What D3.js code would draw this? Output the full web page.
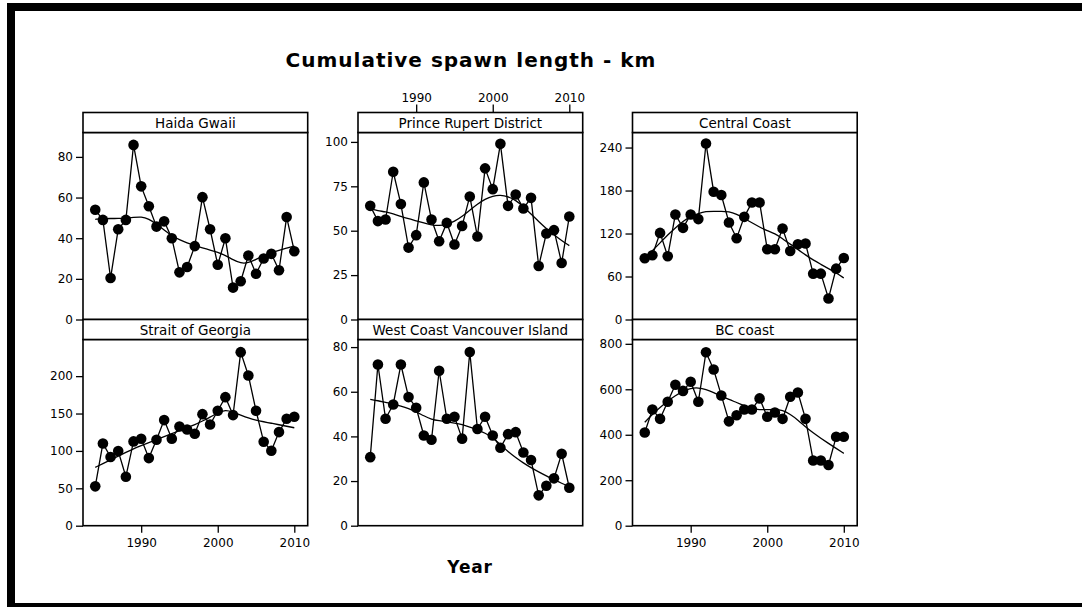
<!DOCTYPE html>
<html>
<head>
<meta charset="utf-8">
<script src="https://cdn.jsdelivr.net/npm/d3@7"></script>
<style>
  html, body { margin: 0; padding: 0; background: #fff; }
  svg { display: block; }
  text { font-family: "DejaVu Sans", Verdana, sans-serif; fill: #000; }
</style>
</head>
<body>
<svg id="chart" width="1082" height="607"></svg>
<script>
// Years of the survey
const years = d3.range(1984, 2011);

// Region names, in panel order
const regions = ["Haida Gwaii", "Prince Rupert District", "Central Coast",
                 "Strait of Georgia", "West Coast Vancouver Island", "BC coast"];

// Cumulative spawn length (km) per year
const haidaGwaii = [54.0, 49.0, 20.4, 44.4, 49.0, 85.9, 65.5, 55.7, 45.7, 48.3, 40.0, 23.2, 25.8, 36.1,
                    60.2, 44.4, 26.9, 40.0, 15.7, 18.8, 31.5, 22.5, 30.0, 32.3, 24.2, 50.4, 33.6];
const princeRupert = [64.0, 55.4, 56.3, 83.2, 65.0, 40.5, 47.5, 77.2, 56.3, 44.1, 54.4, 42.2, 52.7, 69.3,
                      46.7, 85.1, 73.4, 98.9, 64.0, 70.4, 62.5, 68.5, 30.1, 48.4, 50.3, 31.8, 58.0];
const centralCoast = [85.4, 89.6, 120.9, 88.2, 146.6, 127.9, 146.6, 140.1, 245.6, 178.4, 173.7, 135.4, 113.5, 143.3,
                      163.4, 163.4, 98.1, 98.1, 127.0, 95.7, 105.1, 106.0, 64.0, 64.0, 29.4, 71.0, 85.9];
const straitOfGeorgia = [52.6, 110.0, 91.8, 99.8, 65.5, 112.7, 116.3, 90.4, 114.9, 141.2, 116.3, 132.7, 128.7, 122.9,
                         149.2, 135.4, 153.7, 171.9, 147.9, 232.1, 200.9, 153.7, 112.2, 100.2, 125.2, 143.0, 145.7];
const westCoastVI = [30.7, 72.2, 47.9, 54.3, 72.2, 57.6, 52.8, 40.4, 38.5, 69.4, 47.9, 48.8, 39.0, 77.8,
                     43.3, 48.8, 40.4, 34.9, 41.0, 41.9, 32.8, 29.4, 13.6, 17.9, 21.2, 32.2, 17.0];
const bcCoast = [410, 511, 470, 545, 620, 593, 633, 545, 763, 687, 573, 459, 486, 511,
                 511, 560, 479, 498, 470, 567, 586, 470, 287, 287, 267, 391, 391];

// Smoothed trend per region
const haidaGwaiiTrend = [49.3, 49.6, 49.7, 49.7, 49.8, 50.2, 50.6, 49.5, 47.0, 44.0, 41.2, 39.3, 37.6, 36.3,
                         35.2, 34.2, 33.1, 31.5, 29.4, 27.6, 27.8, 29.6, 31.3, 32.8, 34.0, 35.1, 36.2];
const princeRupertTrend = [62.3, 61.3, 60.6, 59.6, 58.0, 56.7, 55.6, 54.4, 53.2, 52.8, 53.4, 55.2, 58.0, 61.6,
                           65.0, 67.8, 69.6, 70.1, 69.3, 67.2, 63.6, 59.4, 55.2, 51.2, 47.6, 44.4, 41.6];
const centralCoastTrend = [86, 96, 107, 118, 128, 137, 144, 148, 151, 151, 151, 151, 147, 141,
                           135, 129, 124, 120, 113, 105, 98, 90, 83, 77, 71, 65, 58];
const straitOfGeorgiaTrend = [78, 83, 88, 93, 98, 103, 107, 111, 115, 119, 123, 127, 131, 135,
                              140, 145, 151, 155, 152, 148, 144, 141, 139, 137, 135, 133, 131];
const westCoastVITrend = [56.6, 56.0, 55.2, 54.5, 53.6, 52.5, 51.0, 49.2, 47.6, 47.0, 46.5, 46.0, 45.4, 44.2,
                          43.0, 41.5, 39.5, 36.3, 33.2, 30.5, 28.1, 26.0, 24.1, 22.3, 20.6, 19.0, 17.5];
const bcCoastTrend = [455, 490, 520, 548, 572, 592, 605, 607, 600, 586, 570, 555, 542, 528,
                      515, 510, 510, 512, 508, 490, 465, 435, 408, 385, 362, 340, 318];

// Axis tick labels
const yearTicks = [1990, 2000, 2010];
const yTicks = [
  [0, 20, 40, 60, 80],
  [0, 25, 50, 75, 100],
  [0, 60, 120, 180, 240],
  [0, 50, 100, 150, 200],
  [0, 20, 40, 60, 80],
  [0, 200, 400, 600, 800]
];
const yMax = [92, 105.3, 261, 249, 83.4, 819];

const series = [haidaGwaii, princeRupert, centralCoast, straitOfGeorgia, westCoastVI, bcCoast];
const trends = [haidaGwaiiTrend, princeRupertTrend, centralCoastTrend, straitOfGeorgiaTrend, westCoastVITrend, bcCoastTrend];

const titleText = "Cumulative spawn length - km";
const xTitleText = "Year";

// ---- layout ----
const svg = d3.select("#chart");
const colLeft = [83, 358, 632.5];
const panelW = 224.7;
const stripH = 20;
const rowStripTop = [112.5, 319.5];
const rowBottom = [319.5, 525.7];

// outer frame bands
svg.append("rect").attr("x", 7).attr("y", 3).attr("width", 1075).attr("height", 8).attr("fill", "#000");
svg.append("rect").attr("x", 7).attr("y", 3).attr("width", 8).attr("height", 604).attr("fill", "#000");
svg.append("rect").attr("x", 7).attr("y", 603).attr("width", 1075).attr("height", 4).attr("fill", "#000");

// title
svg.append("text")
  .attr("x", 471).attr("y", 67)
  .attr("text-anchor", "middle")
  .style("font-size", "20px").style("font-weight", "bold").style("letter-spacing", "1px")
  .text(titleText);

// x-axis title
svg.append("text")
  .attr("x", 470).attr("y", 573)
  .attr("text-anchor", "middle")
  .style("font-size", "17px").style("font-weight", "bold").style("letter-spacing", "0.8px")
  .text(xTitleText);

regions.forEach((name, i) => {
  const col = i % 3, row = Math.floor(i / 3);
  const x0 = colLeft[col];
  const stripTop = rowStripTop[row];
  const plotTop = stripTop + stripH;
  const plotBottom = rowBottom[row];

  const x = d3.scaleLinear().domain([1982.4, 2011.75]).range([x0, x0 + panelW]);
  const y = d3.scaleLinear().domain([0, yMax[i]]).range([plotBottom, plotTop]);

  const g = svg.append("g");

  // y axis
  const yAxis = g.append("g")
    .attr("transform", `translate(${x0},0)`)
    .call(d3.axisLeft(y).tickValues(yTicks[i]).tickSize(7).tickPadding(3).tickFormat(d3.format("d")));
  yAxis.select(".domain").remove();
  yAxis.selectAll("line").attr("stroke", "#000").attr("stroke-width", 1.3);
  yAxis.selectAll("text").style("font-size", "12px");

  // x axis: top for Prince Rupert, bottom for Strait of Georgia and BC coast
  if (i === 1) {
    const xa = g.append("g")
      .attr("transform", `translate(0,${stripTop})`)
      .call(d3.axisTop(x).tickValues(yearTicks).tickSize(8).tickPadding(3).tickFormat(d3.format("d")));
    xa.select(".domain").remove();
    xa.selectAll("line").attr("stroke", "#000").attr("stroke-width", 1.3);
    xa.selectAll("text").style("font-size", "12px");
  }
  if (i === 3 || i === 5) {
    const xa = g.append("g")
      .attr("transform", `translate(0,${plotBottom})`)
      .call(d3.axisBottom(x).tickValues(yearTicks).tickSize(7).tickPadding(6).tickFormat(d3.format("d")));
    xa.select(".domain").remove();
    xa.selectAll("line").attr("stroke", "#000").attr("stroke-width", 1.3);
    xa.selectAll("text").style("font-size", "12px");
  }

  // plot frame
  g.append("rect")
    .attr("x", x0).attr("y", plotTop).attr("width", panelW).attr("height", plotBottom - plotTop)
    .attr("fill", "#fff").attr("stroke", "#000").attr("stroke-width", 1.6);

  // strip
  g.append("rect")
    .attr("x", x0).attr("y", stripTop).attr("width", panelW).attr("height", stripH)
    .attr("fill", "#fff").attr("stroke", "#000").attr("stroke-width", 1.6);
  g.append("text")
    .attr("x", x0 + panelW / 2).attr("y", stripTop + 15)
    .attr("text-anchor", "middle")
    .style("font-size", "13.5px")
    .text(name);

  const pts = years.map((yr, k) => ({ yr, v: series[i][k], t: trends[i][k] }));

  // smoothed trend
  g.append("path")
    .datum(pts)
    .attr("fill", "none").attr("stroke", "#000").attr("stroke-width", 1.3)
    .attr("d", d3.line().curve(d3.curveBasis).x(d => x(d.yr)).y(d => y(d.t)));

  // observed series
  g.append("path")
    .datum(pts)
    .attr("fill", "none").attr("stroke", "#000").attr("stroke-width", 1.3)
    .attr("d", d3.line().x(d => x(d.yr)).y(d => y(d.v)));

  g.selectAll("circle.pt")
    .data(pts)
    .join("circle")
    .attr("class", "pt")
    .attr("cx", d => x(d.yr)).attr("cy", d => y(d.v))
    .attr("r", 5.3).attr("fill", "#000");
});
</script>
</body>
</html>
